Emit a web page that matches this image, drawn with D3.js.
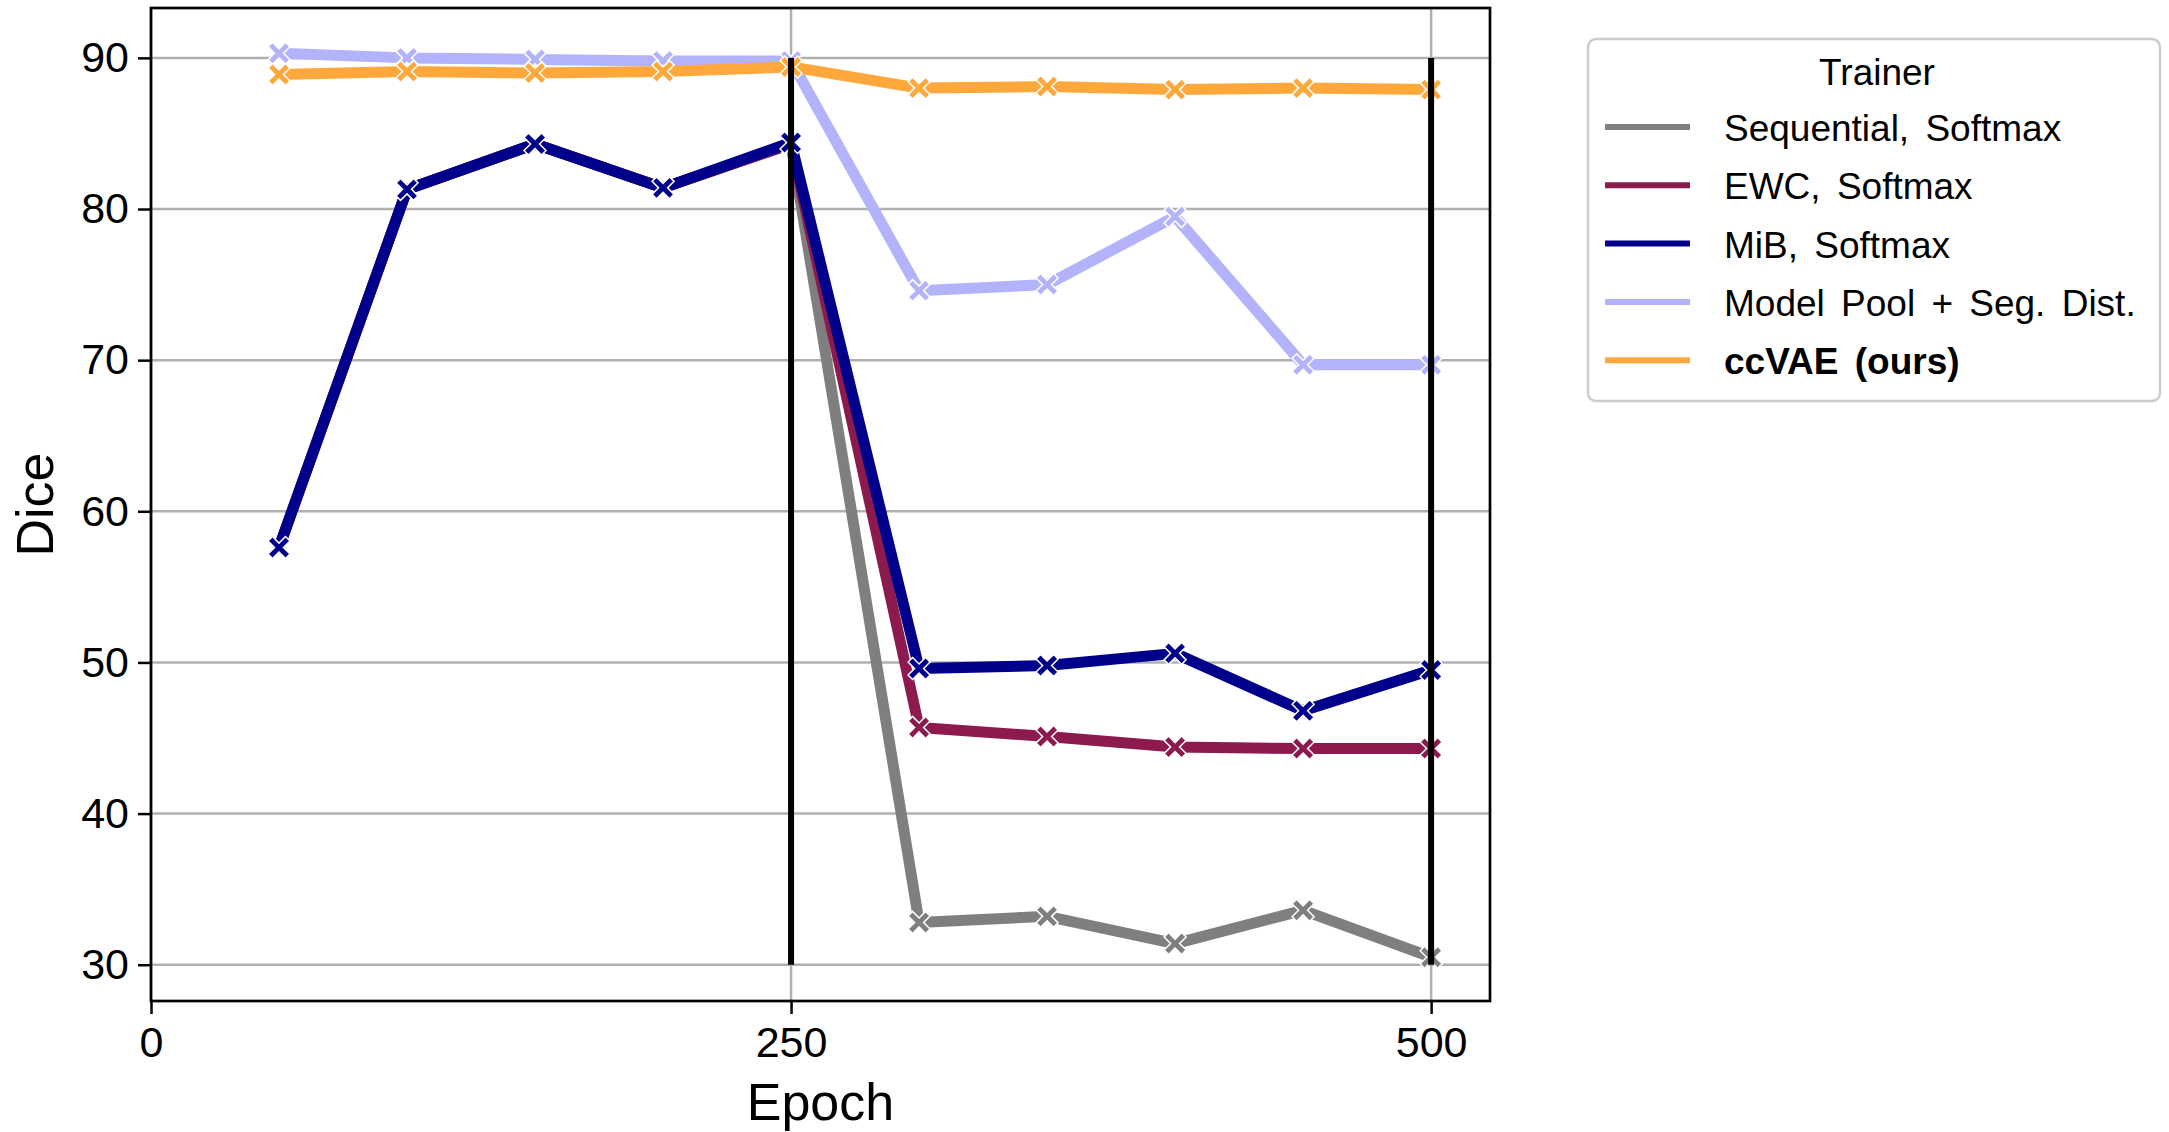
<!DOCTYPE html>
<html>
<head>
<meta charset="utf-8">
<script src="https://cdn.jsdelivr.net/npm/d3@7"></script>
<style>
  body { margin: 0; background: white; }
  svg { display: block; font-family: "Liberation Sans", Arial, sans-serif; }
</style>
</head>
<body>
<svg id="chart" width="2169" height="1132"></svg>
<script>
// data

const epochs = [50, 100, 150, 200, 250, 300, 350, 400, 450, 500];

const sequential = [57.6, 81.3, 84.3, 81.4, 84.3, 32.8, 33.2, 31.4, 33.6, 30.5];
const ewc        = [57.6, 81.3, 84.3, 81.4, 84.3, 45.7, 45.1, 44.4, 44.3, 44.3];
const mib        = [57.6, 81.3, 84.3, 81.4, 84.4, 49.6, 49.8, 50.6, 46.8, 49.5];
const modelPool  = [90.3, 90.0, 89.9, 89.8, 89.8, 74.6, 75.0, 79.5, 69.7, 69.7];
const ccvae      = [88.9, 89.1, 89.0, 89.1, 89.4, 88.0, 88.1, 87.9, 88.0, 87.9];

const seriesNames = [
  'Sequential, Softmax',
  'EWC, Softmax',
  'MiB, Softmax',
  'Model Pool + Seg. Dist.',
  'ccVAE (ours)'
];
const seriesValues = [sequential, ewc, mib, modelPool, ccvae];
const seriesColors = ['#7f7f7f', '#8d1a4f', '#00008b', '#b3b3fb', '#fea83c'];

const xTicks = [0, 250, 500];
const yTicks = [30, 40, 50, 60, 70, 80, 90];
const taskBoundaries = [250, 500];

// layout

const svg = d3.select('#chart');
const plot = { left: 151, right: 1490, top: 8, bottom: 1001 };
const gridGray = '#b0b0b0';

const x = d3.scaleLinear()
    .domain([0, 523])
    .range([plot.left, plot.right]);

const y = d3.scaleLinear()
    .domain([27.6, 93.3])
    .range([plot.bottom, plot.top]);

// grid

svg.append('g')
    .attr('class', 'grid')
  .selectAll('line.h')
  .data(yTicks)
  .join('line')
    .attr('x1', plot.left)
    .attr('x2', plot.right)
    .attr('y1', d => y(d))
    .attr('y2', d => y(d))
    .attr('stroke', gridGray)
    .attr('stroke-width', 2.5);

svg.append('g')
    .attr('class', 'grid')
  .selectAll('line.v')
  .data(xTicks)
  .join('line')
    .attr('x1', d => x(d))
    .attr('x2', d => x(d))
    .attr('y1', plot.top)
    .attr('y2', plot.bottom)
    .attr('stroke', gridGray)
    .attr('stroke-width', 2.5);

// axes

const xAxis = d3.axisBottom(x)
    .tickValues(xTicks)
    .tickSize(13)
    .tickPadding(12);

const yAxis = d3.axisLeft(y)
    .tickValues(yTicks)
    .tickSize(13)
    .tickPadding(9);

svg.append('g')
    .attr('transform', `translate(0, ${plot.bottom})`)
    .call(xAxis)
    .call(g => g.select('.domain').remove())
    .call(g => g.selectAll('line').attr('stroke', 'black').attr('stroke-width', 2.5))
    .call(g => g.selectAll('text')
        .attr('font-size', 43)
        .attr('font-family', '"Liberation Sans", Arial, sans-serif')
        .attr('fill', 'black'));

svg.append('g')
    .attr('transform', `translate(${plot.left}, 0)`)
    .call(yAxis)
    .call(g => g.select('.domain').remove())
    .call(g => g.selectAll('line').attr('stroke', 'black').attr('stroke-width', 2.5))
    .call(g => g.selectAll('text')
        .attr('font-size', 43)
        .attr('font-family', '"Liberation Sans", Arial, sans-serif')
        .attr('fill', 'black'));

// series

const line = d3.line()
    .x((d, i) => x(epochs[i]))
    .y(d => y(d));

const xMarker = 'M-11,-6.5 L-6.5,-11 L0,-4.5 L6.5,-11 L11,-6.5 L4.5,0 L11,6.5 L6.5,11 L0,4.5 L-6.5,11 L-11,6.5 L-4.5,0 Z';

const series = svg.append('g')
    .attr('class', 'series')
  .selectAll('g')
  .data(seriesValues)
  .join('g')
    .attr('fill', (d, i) => seriesColors[i]);

series.append('path')
    .attr('d', d => line(d))
    .attr('fill', 'none')
    .attr('stroke', (d, i) => seriesColors[i])
    .attr('stroke-width', 11)
    .attr('stroke-linejoin', 'round');

series.selectAll('.marker')
  .data(d => d)
  .join('path')
    .attr('class', 'marker')
    .attr('d', xMarker)
    .attr('transform', (d, i) => `translate(${x(epochs[i])}, ${y(d)})`)
    .attr('stroke', 'white')
    .attr('stroke-width', 1.5);

// task boundaries drawn over the lines

svg.append('g')
  .selectAll('line')
  .data(taskBoundaries)
  .join('line')
    .attr('x1', d => x(d))
    .attr('x2', d => x(d))
    .attr('y1', y(30))
    .attr('y2', y(90))
    .attr('stroke', 'black')
    .attr('stroke-width', 6);

// frame

svg.append('rect')
    .attr('x', plot.left)
    .attr('y', plot.top)
    .attr('width', plot.right - plot.left)
    .attr('height', plot.bottom - plot.top)
    .attr('fill', 'none')
    .attr('stroke', 'black')
    .attr('stroke-width', 2.7);

// axis labels

svg.append('text')
    .attr('x', (plot.left + plot.right) / 2)
    .attr('y', 1120)
    .attr('text-anchor', 'middle')
    .attr('font-size', 52)
    .text('Epoch');

svg.append('text')
    .attr('transform', `translate(53, ${(plot.top + plot.bottom) / 2}) rotate(-90)`)
    .attr('text-anchor', 'middle')
    .attr('font-size', 52)
    .text('Dice');

// legend

const legend = svg.append('g')
    .attr('class', 'legend');

legend.append('rect')
    .attr('x', 1588)
    .attr('y', 39)
    .attr('width', 572)
    .attr('height', 362)
    .attr('rx', 8)
    .attr('fill', 'white')
    .attr('stroke', '#cccccc')
    .attr('stroke-width', 2.5);

legend.append('text')
    .attr('x', 1877)
    .attr('y', 85)
    .attr('text-anchor', 'middle')
    .attr('font-size', 37)
    .text('Trainer');

const entries = legend.selectAll('.entry')
  .data(seriesNames)
  .join('g')
    .attr('class', 'entry')
    .attr('transform', (d, i) => `translate(0, ${127 + i * 58.3})`);

entries.append('line')
    .attr('x1', 1605)
    .attr('x2', 1690)
    .attr('stroke', (d, i) => seriesColors[i])
    .attr('stroke-width', 6);

entries.append('text')
    .attr('x', 1724)
    .attr('y', 14)
    .attr('font-size', 37)
    .attr('font-weight', (d, i) => i === 4 ? 'bold' : 'normal')
    .attr('word-spacing', 6)
    .text(d => d);
</script>
</body>
</html>
